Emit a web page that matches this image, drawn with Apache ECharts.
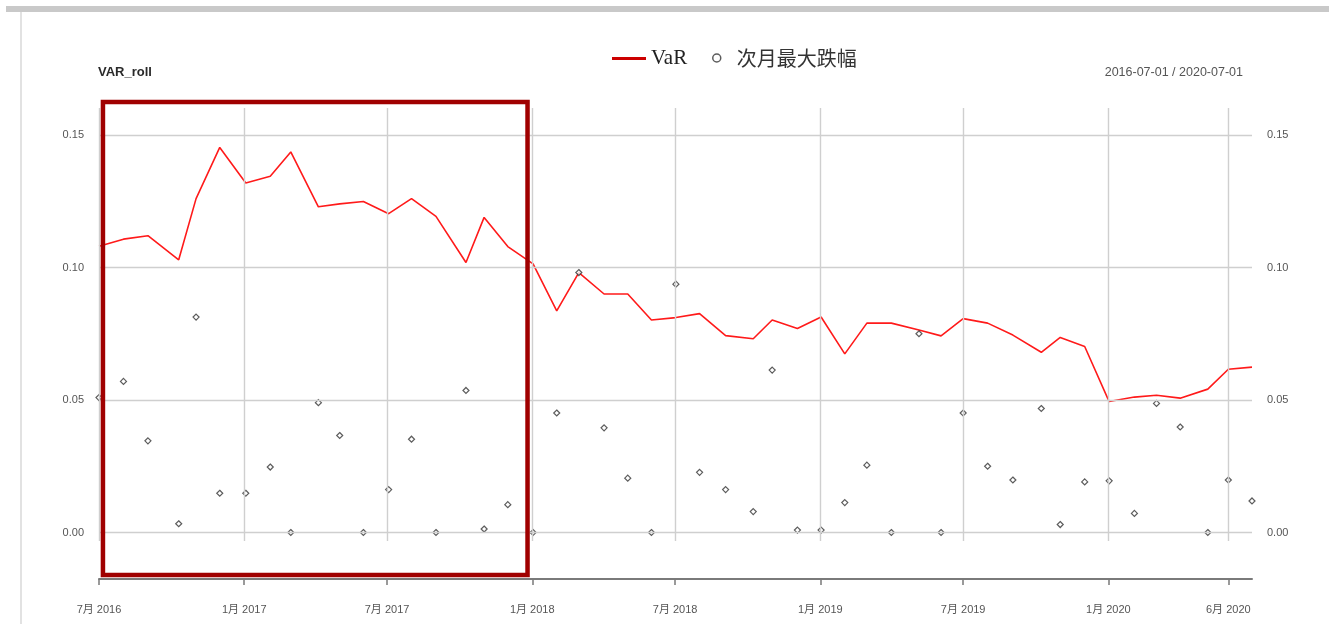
<!DOCTYPE html>
<html>
<head>
<meta charset="utf-8">
<script src="https://cdn.jsdelivr.net/npm/echarts@6/dist/echarts.min.js"></script>
<style>
  html, body { margin: 0; padding: 0; background: #fff; }
  #chart { width: 1329px; height: 634px; }
</style>
</head>
<body>
<div id="chart"></div>
<script>
// Monthly observation dates (first trading day of each month)
const dates = [
  '2016-07-01','2016-08-01','2016-09-01','2016-10-10','2016-11-01','2016-12-01',
  '2017-01-03','2017-02-03','2017-03-01','2017-04-05','2017-05-02','2017-06-01',
  '2017-07-03','2017-08-01','2017-09-01','2017-10-09','2017-11-01','2017-12-01',
  '2018-01-02','2018-02-01','2018-03-01','2018-04-02','2018-05-02','2018-06-01',
  '2018-07-02','2018-08-01','2018-09-03','2018-10-08','2018-11-01','2018-12-03',
  '2019-01-02','2019-02-01','2019-03-01','2019-04-01','2019-05-06','2019-06-03',
  '2019-07-01','2019-08-01','2019-09-02','2019-10-08','2019-11-01','2019-12-02',
  '2020-01-02','2020-02-03','2020-03-02','2020-04-01','2020-05-06','2020-06-01',
  '2020-07-01'
];

// Rolling VaR
const varRoll = [
  0.1080, 0.1107, 0.1120, 0.1029, 0.1260, 0.1453,
  0.1319, 0.1344, 0.1436, 0.1229, 0.1240, 0.1249,
  0.1203, 0.1260, 0.1193, 0.1019, 0.1189, 0.1079,
  0.1014, 0.0836, 0.0981, 0.0900, 0.0900, 0.0802,
  0.0811, 0.0826, 0.0743, 0.0731, 0.0802, 0.0770,
  0.0813, 0.0674, 0.0790, 0.0790, 0.0764, 0.0742,
  0.0807, 0.0790, 0.0745, 0.0680, 0.0736, 0.0702,
  0.0494, 0.0511, 0.0518, 0.0507, 0.0541, 0.0616,
  0.0624
];

// Maximum drawdown over the following month
const nextMonthDrop = [
  0.0509, 0.0570, 0.0346, 0.0033, 0.0813, 0.0148,
  0.0148, 0.0247, 0.0000, 0.0490, 0.0366, 0.0000,
  0.0162, 0.0352, 0.0000, 0.0536, 0.0013, 0.0105,
  0.0000, 0.0451, 0.0981, 0.0395, 0.0205, 0.0000,
  0.0937, 0.0227, 0.0162, 0.0079, 0.0613, 0.0009,
  0.0009, 0.0113, 0.0254, 0.0000, 0.0750, 0.0000,
  0.0451, 0.0250, 0.0198, 0.0468, 0.0030, 0.0191,
  0.0195, 0.0072, 0.0487, 0.0398, 0.0000, 0.0198,
  0.0119
];

// Axis tick positions
const xTickDates = ['2016-07-01','2017-01-01','2017-07-01','2018-01-01','2018-07-01',
                    '2019-01-01','2019-07-01','2020-01-01','2020-06-01'];
const yTicks = [0, 0.05, 0.10, 0.15];
const xRange = ['2016-07-01', '2020-07-01'];
const yRange = [-0.00321, 0.16019];

// Highlighted period (box corners in data units)
const highlightDates = ['2016-07-06', '2017-12-26'];
const highlightValues = [0.1625, -0.0160];

// dates are placed on a numeric (UTC millisecond) axis
function ts(s) {
  const p = s.split('-').map(Number);
  return Date.UTC(p[0], p[1] - 1, p[2]);
}

const SANS = "'Liberation Sans', Arial, 'Noto Sans CJK SC', sans-serif";
const chart = echarts.init(document.getElementById('chart'), null, { renderer: 'canvas' });

const gridLineStyle = { color: '#cfcfcf', width: 1.4, type: 'solid' };
const xTicks = xTickDates.map(ts);

const option = {
  animation: false,
  backgroundColor: '#fff',
  title: [
    { text: 'VAR_roll', left: 98, top: 66, padding: 0,
      textStyle: { fontFamily: SANS, fontSize: 13, fontWeight: 'bold', color: '#2a2a2a' } },
    { text: dates[0] + ' / ' + dates[dates.length - 1], right: 86, top: 66, padding: 0,
      textStyle: { fontFamily: SANS, fontSize: 12.5, fontWeight: 'normal', color: '#555' } }
  ],
  legend: [
    { data: [{ name: 'VaR', icon: 'rect', itemStyle: { color: '#cc0000' } }],
      left: 612, top: 48, padding: 0, itemWidth: 34, itemHeight: 3,
      textStyle: { fontFamily: "'Liberation Serif', 'Times New Roman', serif", fontSize: 21, color: '#222' } },
    { data: [{ name: '次月最大跌幅', icon: 'circle',
               itemStyle: { color: '#fff', borderColor: '#333', borderWidth: 1.5 } }],
      left: 712, top: 48, padding: 0, itemWidth: 30, itemHeight: 8,
      textStyle: { fontFamily: "'Noto Sans CJK SC', sans-serif", fontSize: 20, color: '#333' } }
  ],
  grid: { left: 99, right: 77, top: 108, bottom: 93, containLabel: false },
  xAxis: {
    type: 'value', min: ts(xRange[0]), max: ts(xRange[1]), offset: 38, position: 'bottom',
    axisLine: { show: true, onZero: false, lineStyle: { color: '#7a7a7a', width: 2 } },
    axisTick: { show: true, customValues: xTicks, length: 6, lineStyle: { color: '#7a7a7a', width: 1.5 } },
    axisLabel: {
      customValues: xTicks, margin: 25, color: '#555', fontFamily: SANS, fontSize: 11,
      hideOverlap: false, showMinLabel: true, showMaxLabel: true,
      formatter: function (v) { const d = new Date(v); return (d.getUTCMonth() + 1) + '月 ' + d.getUTCFullYear(); }
    },
    splitLine: { show: false }
  },
  yAxis: [
    {
      type: 'value', min: yRange[0], max: yRange[1], position: 'left',
      axisLine: { show: false, onZero: false }, axisTick: { show: false },
      axisLabel: { customValues: yTicks, margin: 15, color: '#555', fontFamily: SANS, fontSize: 11,
                   formatter: v => v.toFixed(2) },
      splitLine: { show: false }
    },
    {
      type: 'value', min: yRange[0], max: yRange[1], position: 'right',
      axisLine: { show: false, onZero: false }, axisTick: { show: false },
      axisLabel: { customValues: yTicks, margin: 15, color: '#555', fontFamily: SANS, fontSize: 11,
                   formatter: v => v.toFixed(2) },
      splitLine: { show: false }
    }
  ],
  series: [
    {
      // carrier for the grid lines, drawn beneath the data
      name: 'grid', type: 'line', z: 1, silent: true, showSymbol: false,
      data: dates.map((d, i) => [ts(d), varRoll[i]]),
      lineStyle: { opacity: 0 }, itemStyle: { opacity: 0 },
      markLine: {
        silent: true, symbol: 'none', label: { show: false },
        lineStyle: gridLineStyle,
        data: xTicks.map(x => ({ xAxis: x })).concat(yTicks.map(v => ({ yAxis: v })))
      }
    },
    {
      name: 'VaR', type: 'line', z: 3,
      data: dates.map((d, i) => [ts(d), varRoll[i]]),
      showSymbol: false, symbol: 'none',
      lineStyle: { color: '#ff1a1a', width: 1.6 },
      itemStyle: { color: '#cc0000' }
    },
    {
      name: '次月最大跌幅', type: 'scatter', z: 4,
      data: dates.map((d, i) => [ts(d), nextMonthDrop[i]]),
      symbol: 'diamond', symbolSize: 6,
      itemStyle: { color: '#fff', borderColor: '#333', borderWidth: 1.2 }
    }
  ]
};

chart.setOption(option);

// Highlight box around the first period, positioned through the axes
const p1 = chart.convertToPixel({ gridIndex: 0 }, [ts(highlightDates[0]), highlightValues[0]]);
const p2 = chart.convertToPixel({ gridIndex: 0 }, [ts(highlightDates[1]), highlightValues[1]]);

chart.setOption({
  graphic: [
    { type: 'rect', z: 0, silent: true, shape: { x: 6, y: 6, width: 1323, height: 6 },
      style: { fill: '#c9c9c9' } },
    { type: 'rect', z: 0, silent: true, shape: { x: 20, y: 12, width: 2, height: 612 },
      style: { fill: '#e2e2e2' } },
    { type: 'rect', z: 100, silent: true,
      shape: { x: p1[0], y: p1[1], width: p2[0] - p1[0], height: p2[1] - p1[1] },
      style: { fill: 'none', stroke: '#a00000', lineWidth: 4.5 } }
  ]
});
</script>
</body>
</html>
